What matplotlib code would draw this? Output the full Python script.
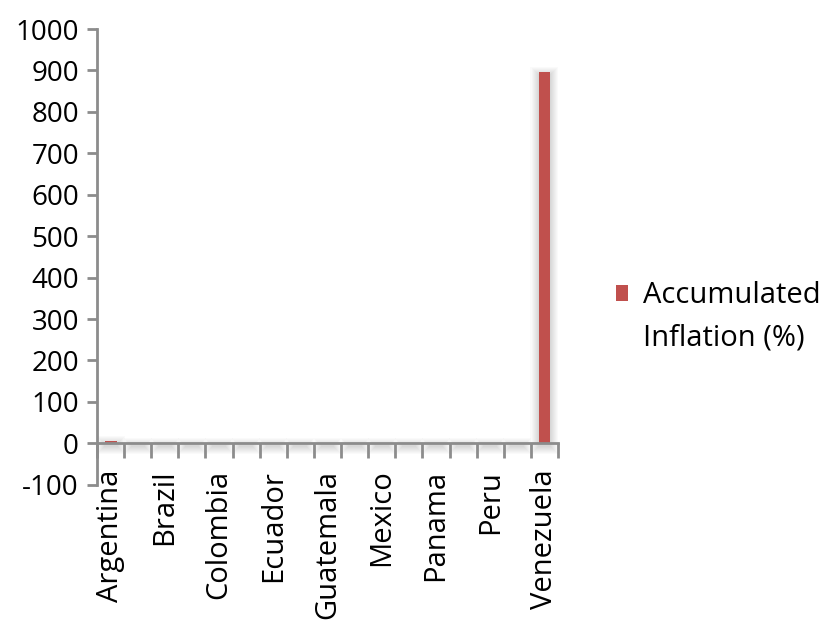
import matplotlib
matplotlib.use("Agg")
import matplotlib.pyplot as plt
import numpy as np

plt.rcParams['font.family'] = ['Open Sans', 'DejaVu Sans']
plt.rcParams['axes.unicode_minus'] = False

countries = ["Argentina", "Bolivia", "Brazil", "Chile", "Colombia", "Costa Rica",
             "Ecuador", "El Salvador", "Guatemala", "Honduras", "Mexico", "Nicaragua",
             "Panama", "Paraguay", "Peru", "Uruguay", "Venezuela"]
inflation = [6, 1, 1, 1, 1, 1, 1, 1, 1, 1, 1, 1, 1, 1, 1, 1, 897]
series_name = "Accumulated\nInflation (%)"

bar_color = "#C0504D"
axis_color = "#8C8C8C"

fig = plt.figure(figsize=(8.25, 6.2), dpi=100)
ax = fig.add_axes([0.1176, 0.2182, 0.5588, 0.735])

x = np.arange(len(countries))
bar_w = 0.44

# soft outer shadow: stacked translucent rectangles growing outward
px_x = 27.1      # pixels per category
px_y = 0.4143    # pixels per unit of value
for k in range(1, 9):
    gx = k / px_x
    gy = k / px_y
    off = 3 / px_y
    ax.bar(x, np.array(inflation) + 2 * gy, width=bar_w + 2 * gx,
           bottom=-gy - off, color="black", alpha=0.018, linewidth=0, zorder=1)

bars = ax.bar(x, inflation, width=bar_w, color=bar_color, linewidth=0,
              label=series_name, zorder=3)

ax.set_xlim(-0.5, len(countries) - 0.5)
ax.set_ylim(-100, 1000)
ax.set_yticks(np.arange(-100, 1001, 100))

# category boundaries carry the tick marks; every other name is shown
ax.set_xticks(np.arange(-0.5, len(countries), 1.0))
ax.set_xticklabels([])
ax.tick_params(axis='x', length=11, width=2, color=axis_color, direction='out')
ax.tick_params(axis='y', length=7, width=2, color=axis_color, direction='out',
               labelsize=20, pad=6)
for i, name in enumerate(countries):
    if i % 2 == 0:
        ax.annotate(name, xy=(i, 0), xycoords=('data', 'data'),
                    xytext=(0, -19), textcoords='offset points',
                    rotation=90, ha='center', va='top', fontsize=21)

for side in ("top", "right"):
    ax.spines[side].set_visible(False)
ax.spines["left"].set_color(axis_color)
ax.spines["left"].set_linewidth(2)
ax.spines["bottom"].set_position(('data', 0))
ax.spines["bottom"].set_color(axis_color)
ax.spines["bottom"].set_linewidth(2)
ax.spines["bottom"].set_zorder(4)

fs = 21
leg = fig.legend(handles=[bars], labels=[series_name], loc='upper left',
                 bbox_to_anchor=(0.7467, 0.546), frameon=False, fontsize=fs,
                 handlelength=0.42, handleheight=0.42, handletextpad=0.52,
                 borderpad=0, borderaxespad=0)
leg.get_texts()[0].set_linespacing(1.57)
# keep the swatch level with the first line of the label
handle = leg.legend_handles[0]
handle.set_y(handle.get_y() + 17.5)

fig.savefig("out.png", dpi=100)
